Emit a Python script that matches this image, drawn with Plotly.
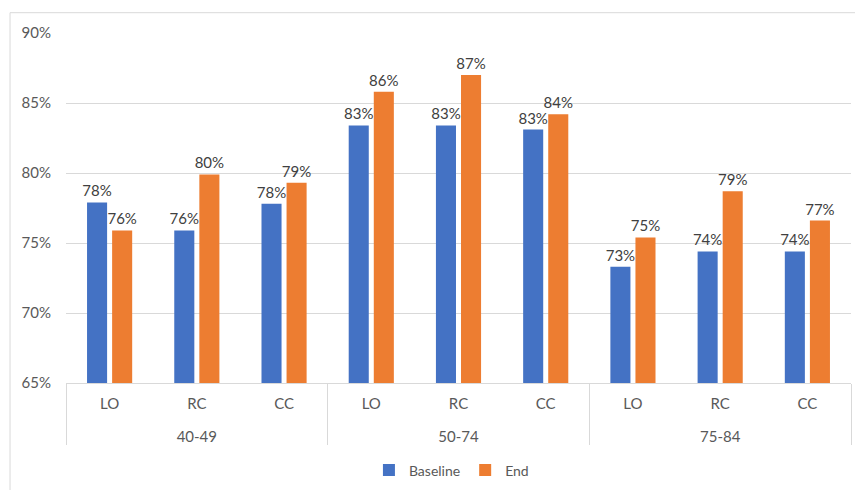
import plotly.graph_objects as go

# Age bands and screening methods (two-level category axis)
age_groups = ["40-49", "40-49", "40-49", "50-74", "50-74", "50-74", "75-84", "75-84", "75-84"]
methods = ["LO", "RC", "CC", "LO", "RC", "CC", "LO", "RC", "CC"]

# Share of participants, as fractions
baseline = [0.779, 0.759, 0.778, 0.834, 0.834, 0.831, 0.733, 0.744, 0.744]
end = [0.759, 0.799, 0.793, 0.858, 0.870, 0.842, 0.754, 0.787, 0.766]

series_names = ["Baseline", "End"]
series_colors = ["#4472C4", "#ED7D31"]

FONT = "Lato, 'Open Sans', sans-serif"
TEXT_GREY = "#595959"
LINE_GREY = "#D9D9D9"

# The outer level is pushed one line lower so the two label rows sit further apart
outer_labels = ["<br>" + g for g in age_groups]

fig = go.Figure()
for name, values, color in zip(series_names, [baseline, end], series_colors):
    fig.add_trace(go.Bar(
        name=name,
        x=[outer_labels, methods],
        y=values,
        marker=dict(color=color, line=dict(width=0)),
        texttemplate="%{y:.0%}",
        textposition="outside",
        constraintext="none",
        cliponaxis=False,
        textfont=dict(family=FONT, size=15, color="#404040"),
        hoverinfo="skip",
    ))

fig.update_layout(
    width=855,
    height=490,
    margin=dict(l=66, r=4, t=33, b=107),
    paper_bgcolor="white",
    plot_bgcolor="white",
    barmode="group",
    bargap=0.425,
    bargroupgap=0.2,
    font=dict(family=FONT, size=15, color=TEXT_GREY),
    legend=dict(
        orientation="h",
        x=0.491,
        xanchor="center",
        y=-0.25,
        yanchor="middle",
        font=dict(family=FONT, size=14, color=TEXT_GREY),
        itemclick=False,
    ),
    showlegend=True,
    # outer chart frame
    shapes=[dict(
        type="rect", xref="paper", yref="paper",
        x0=-0.0713, x1=1.02, y0=-0.35, y1=1.058,
        line=dict(color=LINE_GREY, width=1),
        fillcolor="rgba(0,0,0,0)",
        layer="below",
    )],
)

fig.update_yaxes(
    range=[0.65, 0.90],
    dtick=0.05,
    tickformat=".0%",
    showgrid=True,
    gridcolor=LINE_GREY,
    gridwidth=1,
    zeroline=False,
    showline=False,
    ticks="",
    ticklabelstandoff=14,
    tickfont=dict(family=FONT, size=15, color=TEXT_GREY),
)

fig.update_xaxes(
    type="multicategory",
    showline=True,
    linecolor=LINE_GREY,
    linewidth=1,
    showdividers=True,
    dividercolor=LINE_GREY,
    dividerwidth=1,
    ticks="",
    ticklabelstandoff=7,
    tickfont=dict(family=FONT, size=15, color=TEXT_GREY),
)

fig.write_html("out.html")
